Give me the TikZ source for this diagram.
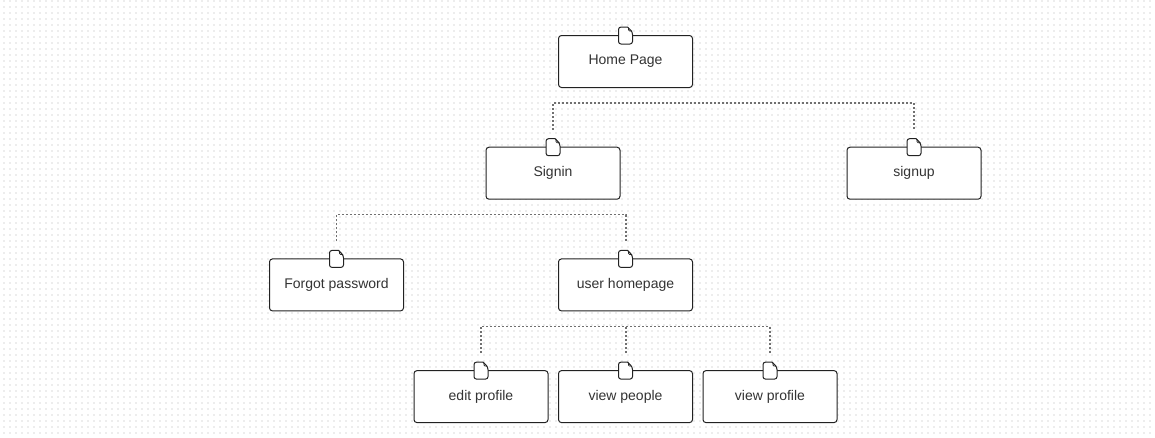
\documentclass[tikz,border=0pt]{standalone}
\usepackage{fontspec}
\setmainfont{Liberation Sans}
\definecolor{griddot}{HTML}{EDEDED}
\definecolor{boxline}{HTML}{222222}
\definecolor{linkline}{HTML}{707070}
\definecolor{labeltext}{HTML}{333333}
\usetikzlibrary{calc,positioning}
\tikzset{
	x=1pt, y=1pt,
	pagebox/.style={
		draw=boxline, line width=1pt, rectangle, rounded corners=3pt,
		minimum width=134pt, minimum height=52pt, fill=white,
		inner sep=0pt, text=labeltext, font=\fontsize{14}{16}\selectfont
	},
	docicon/.style={draw=boxline, line width=1pt, fill=white},
	griddots/.style={griddot, line width=2pt, dash pattern=on 2pt off 4pt},
	link/.style={draw=linkline, line width=1.5pt, dash pattern=on 2pt off 2pt}
}
\begin{document}
\begin{tikzpicture}
	\useasboundingbox (0,0) rectangle (1155,-437);
	\foreach \j in {0,...,72}
		\draw[griddots] (3,{-1-6*\j}) -- (1155,{-1-6*\j});
	\node[pagebox] (home) at (625.5,-61.5) {Home Page};
	\node[pagebox] (signin) [below=58.7pt of home, xshift=-72.5pt] {Signin};
	\node[pagebox] (signup) [below=58.7pt of home, xshift=288.5pt] {signup};
	\node[pagebox] (forgot) [below=58.7pt of signin, xshift=-216.5pt] {Forgot password};
	\node[pagebox] (userhome) [below=58.7pt of signin, xshift=72.5pt] {user homepage};
	\node[pagebox] (edit) [below=58.7pt of userhome, xshift=-144.5pt] {edit profile};
	\node[pagebox] (people) [below=58.7pt of userhome] {view people};
	\node[pagebox] (profile) [below=58.7pt of userhome, xshift=144.5pt] {view profile};
	\foreach \n in {home,signin,signup,forgot,userhome,edit,people,profile} {
		\draw[docicon, shift={(\n.north)}, rounded corners=2.5pt] (2,8) -- (-7,8) -- (-7,-9) -- (7,-9) -- (7,3) [sharp corners] -- (2,8) -- cycle;
		\draw[boxline, line width=0.7pt, shift={(\n.north)}, rounded corners=1pt] (3,7.5) -- (3,4) -- (6.5,4);
	}
	% elbow links stop short of the icons
	\coordinate (homeS) at ($(home.south)+(0,-15)$);
	\coordinate (signinS) at ($(signin.south)+(0,-15)$);
	\coordinate (userS) at ($(userhome.south)+(0,-15)$);
	\coordinate (signinT) at ($(signin.north)+(0,17)$);
	\coordinate (signupT) at ($(signup.north)+(0,17)$);
	\coordinate (forgotT) at ($(forgot.north)+(0,17)$);
	\coordinate (userT) at ($(userhome.north)+(0.5,17)$);
	\coordinate (editT) at ($(edit.north)+(0,17)$);
	\coordinate (peopleT) at ($(people.north)+(0.5,17)$);
	\coordinate (profileT) at ($(profile.north)+(0,17)$);
	\draw[link] (signinT) |- (homeS) -| (signupT);
	\draw[link] (forgotT) |- (signinS) -| (userT);
	\draw[link] (editT) |- (userS) -| (profileT);
	\draw[link] (peopleT) -- (userS -| peopleT);
\end{tikzpicture}
\end{document}
